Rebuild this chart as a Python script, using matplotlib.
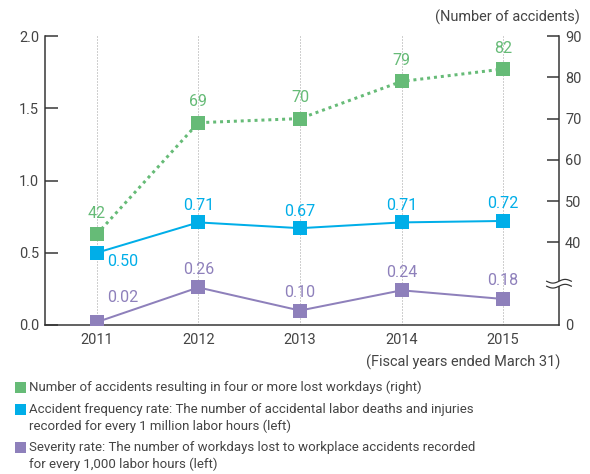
import matplotlib
matplotlib.use("Agg")
import matplotlib.pyplot as plt
from matplotlib.patches import Rectangle
from matplotlib.transforms import blended_transform_factory
import numpy as np

plt.rcParams['font.family'] = ['Roboto', 'DejaVu Sans']

years = ["2011", "2012", "2013", "2014", "2015"]
accidents = [42, 69, 70, 79, 82]
frequency = [0.50, 0.71, 0.67, 0.71, 0.72]
severity = [0.02, 0.26, 0.10, 0.24, 0.18]

left_ticks = [0.0, 0.5, 1.0, 1.5, 2.0]
right_ticks = [20, 40, 50, 60, 70, 80, 90]
right_ticklabels = ["0", "40", "50", "60", "70", "80", "90"]

GREEN = "#66bb77"
BLUE = "#00aee8"
PURPLE = "#8e80bb"
TEXT = "#444444"

DPI = 72
fig = plt.figure(figsize=(590 / DPI, 474 / DPI), dpi=DPI)
ax = fig.add_axes([45 / 590, 1 - 325 / 474, (559 - 45) / 590, (325 - 36) / 474])
ax2 = ax.twinx()

x = np.arange(len(years))
ax.set_xlim(-0.51, 4.55)
ax.set_ylim(0, 2.0)
ax2.set_ylim(20, 90)

for xi in x:
    ax.axvline(xi, color="#a0a0a0", lw=1, ls=(0, (1, 2)), zorder=0)

ax.plot(x, frequency, color=BLUE, lw=2, marker="s", ms=14, mew=0, zorder=3)
ax.plot(x, severity, color=PURPLE, lw=2, marker="s", ms=14, mew=0, zorder=3)
ax2.plot(x, accidents, color=GREEN, lw=3, ls=(0, (1, 1.3)), marker="s", ms=14,
         mew=0, zorder=3)

fs = 16
for xi, v in zip(x, accidents):
    ax2.annotate(f"{v}", (xi, v), xytext=(0, 21), textcoords="offset points",
                 ha="center", va="center", color=GREEN, fontsize=fs)
for i, (xi, v) in enumerate(zip(x, frequency)):
    off = (26, -9) if i == 0 else (0, 17)
    ax.annotate(f"{v:.2f}", (xi, v), xytext=off, textcoords="offset points",
                ha="center", va="center", color=BLUE, fontsize=fs)
for i, (xi, v) in enumerate(zip(x, severity)):
    off = (26, 25) if i == 0 else (0, 18)
    ax.annotate(f"{v:.2f}", (xi, v), xytext=off, textcoords="offset points",
                ha="center", va="center", color=PURPLE, fontsize=fs)

ax.set_xticks(x)
ax.set_xticklabels(years)
ax.set_yticks(left_ticks)
ax.set_yticklabels([f"{t:.1f}" for t in left_ticks])
ax2.set_yticks(right_ticks)
ax2.set_yticklabels(right_ticklabels)

ts = 14.5
ax.tick_params(axis="x", length=0, pad=8, labelsize=ts, labelcolor=TEXT)
ax.tick_params(axis="y", direction="in", length=13, width=1.5, color="#333333",
               pad=6, labelsize=ts, labelcolor=TEXT)
ax2.tick_params(axis="y", direction="in", length=12, width=1.5, color="#333333",
                pad=6, labelsize=ts, labelcolor=TEXT)
ax2.yaxis.get_major_ticks()[0].tick2line.set_visible(False)

for a in (ax, ax2):
    a.spines["top"].set_visible(False)
    for s in ("left", "right", "bottom"):
        a.spines[s].set_color("#333333")
        a.spines[s].set_linewidth(1.5)
ax.spines["right"].set_visible(False)
ax2.spines["left"].set_visible(False)
ax2.spines["bottom"].set_visible(False)

# axis break marks on the right axis
tr = blended_transform_factory(ax2.transAxes, ax2.transData)
brk = 30
ax2.add_patch(Rectangle((0.99, brk - 0.6), 0.02, 1.2, transform=tr,
                        facecolor="white", edgecolor="none", clip_on=False, zorder=5))
t = np.linspace(-1, 1, 60)
for dy in (-0.6, 0.6):
    ax2.plot(1 + t * 0.024, brk + dy + 0.45 * np.sin(t * np.pi), transform=tr,
             color="#333333", lw=1.2, clip_on=False, zorder=6)

fig.text(580 / 590, 1 - 17 / 474, "(Number of accidents)", ha="right", va="center",
         fontsize=ts, color=TEXT)
fig.text(560 / 590, 1 - 362 / 474, "(Fiscal years ended March 31)", ha="right",
         va="center", fontsize=ts, color=TEXT)

legend_items = [
    (GREEN, ["Number of accidents resulting in four or more lost workdays (right)"], 387),
    (BLUE, ["Accident frequency rate: The number of accidental labor deaths and injuries",
            "recorded for every 1 million labor hours (left)"], 409),
    (PURPLE, ["Severity rate: The number of workdays lost to workplace accidents recorded",
              "for every 1,000 labor hours (left)"], 447),
]
for color, lines, ypix in legend_items:
    fig.add_artist(Rectangle((15 / 590, 1 - (ypix + 5.5) / 474), 11 / 590, 11 / 474,
                             transform=fig.transFigure, facecolor=color,
                             edgecolor="none"))
    for k, line in enumerate(lines):
        fig.text(29 / 590, 1 - (ypix + k * 17.5) / 474, line, ha="left", va="center",
                 fontsize=13.2, color=TEXT)

fig.savefig("out.png", dpi=DPI)
